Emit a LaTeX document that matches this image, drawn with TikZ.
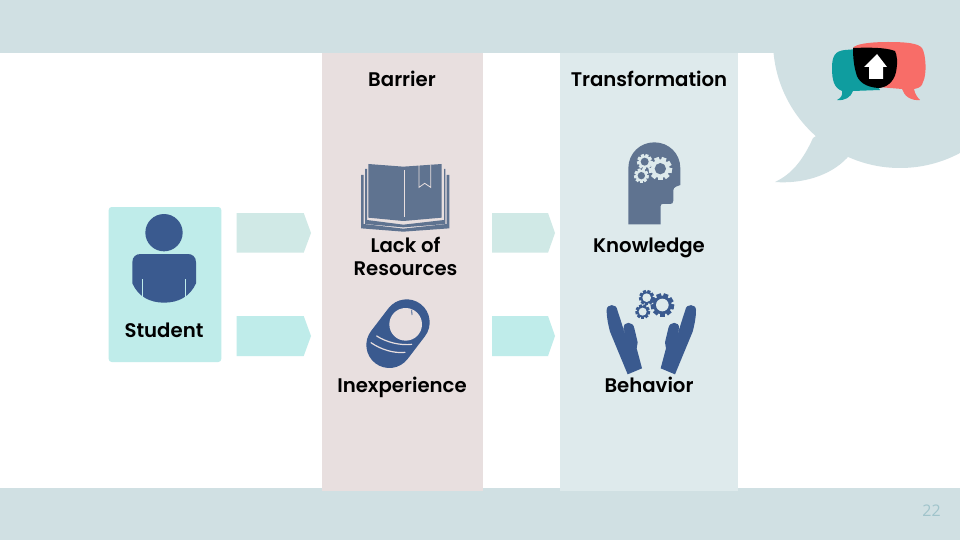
\documentclass[tikz,border=0pt]{standalone}
\usepackage{fontspec}
\setmainfont{Poppins SemiBold}
\newfontfamily\numfont{Open Sans}
\definecolor{bandc}{HTML}{D0E0E3}
\definecolor{barc}{HTML}{E8DFDF}
\definecolor{trac}{HTML}{DEEAEC}
\definecolor{stuc}{HTML}{BFECEA}
\definecolor{arrc}{HTML}{D0E9E6}
\definecolor{iconA}{HTML}{5F7390}
\definecolor{iconB}{HTML}{3A5A8F}
\definecolor{tealc}{HTML}{0F9D9F}
\definecolor{coralc}{HTML}{F86D68}
\definecolor{numc}{HTML}{A0C4CB}
\tikzset{
  label text/.style={font=\fontsize{19.7}{23}\selectfont,text=black,align=center,inner sep=0pt,anchor=base},
  zoomed/.style={x=0.33333pt,y=-0.33333pt},
}
\newcommand{\zgear}[6]{%
  \fill[#5] (#1,#2) circle (#3*0.8);
  \foreach \za in {10,50,...,370}{
    \draw[#5,line width=#3*0.14pt] ({#1+0.7*#3*cos(\za)},{#2+0.7*#3*sin(\za)}) -- ({#1+#3*cos(\za)},{#2+#3*sin(\za)});
  }
  \fill[#6] (#1,#2) circle (#4);
}
\newcommand{\zhand}{%
  (50,75) .. controls (50,56) and (80,55) .. (82,75) -- (95,115) -- (112,172) -- (101,130)
  .. controls (99,108) and (130,108) .. (133,130) -- (143,172) -- (140,190) -- (156,250) -- (113,268) -- (60,140)
  .. controls (55,120) and (50,100) .. (50,75) -- cycle}
\begin{document}
\begin{tikzpicture}[x=1pt,y=-1pt]
\path[use as bounding box,fill=white] (0,0) rectangle (960,540);
% bands
\fill[bandc] (0,0) rectangle (960,53);
\fill[bandc] (0,488) rectangle (960,540);
% speech bubble
\begin{scope}
\clip (0,0) rectangle (960,540);
\fill[bandc] (900,41) circle (127);
\end{scope}
\fill[bandc] (813,138) .. controls (803,160) and (792,174) .. (775,182)
  .. controls (802,184) and (830,176) .. (847,158) -- (870,130) -- (840,120) -- cycle;
% columns
\fill[barc] (321.5,53) rectangle (482.5,490.5);
\fill[trac] (560,53) rectangle (737.5,491);
% student box
\fill[stuc,rounded corners=3pt] (108.7,207) rectangle (221.3,362);
% block arrows
\fill[arrc] (236.5,213) -- (303.7,213) -- (311,233) -- (303.7,252.7) -- (236.5,252.7) -- cycle;
\fill[stuc] (236.5,316) -- (303.7,316) -- (311,336) -- (303.7,356) -- (236.5,356) -- cycle;
\fill[arrc] (492,213) -- (548,213) -- (555,233) -- (548,252.7) -- (492,252.7) -- cycle;
\fill[stuc] (492,316) -- (548,316) -- (555,336) -- (548,356) -- (492,356) -- cycle;
% student icon
\begin{scope}[shift={(100,200)},zoomed]
\fill[iconB] (192,98) circle (56);
\fill[iconB] (97,187) .. controls (97,170) and (108,162) .. (122,162) -- (263,162)
  .. controls (277,162) and (288,170) .. (288,187) -- (288,250)
  .. controls (270,290) and (235,308) .. (192,308)
  .. controls (150,308) and (115,290) .. (97,250) -- cycle;
\draw[stuc,line width=0.8pt] (128,238) -- (128,292) (256,238) -- (256,292);
\end{scope}
% book icon
\begin{scope}[shift={(340,150)},zoomed]
\fill[iconA] (63,75) -- (71,75) -- (71,222) -- (190,236) -- (320,222) -- (320,75) -- (328,75) -- (328,235) -- (190,245) -- (63,235) -- cycle;
\fill[iconA] (75,57) -- (81,57) -- (81,210) -- (190,224) -- (312,210) -- (312,57) -- (316,57) -- (316,222) -- (190,232) -- (75,222) -- cycle;
\fill[iconA] (85,42) -- (190,50) -- (305,42) -- (305,203) -- (190,213) -- (85,203) -- cycle;
\draw[barc,line width=0.8pt] (192,60) -- (192,200);
\draw[barc,line width=0.8pt] (237,45) -- (237,112) -- (254,100) -- (272,112) -- (272,45);
\end{scope}
% head icon
\begin{scope}[shift={(590,130)},zoomed]
\fill[iconA] (115,283) -- (115,115) .. controls (115,70) and (150,37) .. (193,37)
  .. controls (236,37) and (271,70) .. (271,115) -- (271,165) -- (258,170)
  .. controls (252,172) and (250,176) .. (250,182) -- (250,212)
  .. controls (250,219) and (246,222) .. (240,222) -- (218,222)
  .. controls (214,222) and (212,224) .. (212,228) -- (212,283) -- cycle;
\zgear{211}{116}{35}{17}{trac}{iconA}
\zgear{164}{95}{23}{12}{trac}{iconA}
\zgear{154}{137}{22}{11}{trac}{iconA}
\end{scope}
% hands icon
\begin{scope}[shift={(590,285)},zoomed]
\fill[iconB] \zhand;
\begin{scope}[shift={(368,0)},xscale=-1]
\fill[iconB] \zhand;
\end{scope}
\zgear{217}{60}{35}{19}{iconB}{trac}
\zgear{170}{38}{23}{13}{iconB}{trac}
\zgear{158}{80}{22}{12}{iconB}{trac}
\end{scope}
% baby icon
\begin{scope}[shift={(350,295)},zoomed]
\draw[iconB,line width=46pt,line cap=round] (170,82) -- (118,150);
\fill[barc] (167,88) circle (49);
\draw[iconB,line width=0.8pt] (185,44) -- (186,60);
\draw[barc,line width=1.2pt,line cap=round] (80,123) .. controls (110,142) and (150,152) .. (185,148);
\draw[barc,line width=1.2pt,line cap=round] (63,143) .. controls (90,162) and (130,176) .. (165,172);
\end{scope}
% logo
\fill[tealc] (858,57) -- (858,49) -- (845,50) .. controls (835,51) and (832,56) .. (832,68)
  .. controls (832,80) and (834,88) .. (842,91) .. controls (843,95) and (841,98) .. (837,100)
  .. controls (845,101) and (851,97) .. (853,91) -- (880,90) -- cycle;
\fill[coralc] (853,48) .. controls (855,44) and (870,42) .. (888,42) .. controls (905,42) and (918,43) .. (922,48)
  .. controls (926,54) and (927,75) .. (923,82) .. controls (922,86) and (920,88) .. (914,89)
  .. controls (915,94) and (917,97) .. (920,100) .. controls (911,101) and (904,96) .. (902,89)
  -- (878,87) -- cycle;
\fill[black] (853,48) .. controls (865,47.5) and (885,47) .. (895,51)
  .. controls (897,55) and (898,62) .. (896,72)
  .. controls (894,82) and (886,88) .. (878,88)
  .. controls (866,87) and (858,82) .. (856,73)
  .. controls (854,66) and (853,58) .. (853,48) -- cycle;
\fill[white] (877,54) -- (887,67) -- (883,67) -- (883,79) -- (869,79) -- (869,67) -- (864,67) -- cycle;
% labels
\node[label text] (barrier) at (402,86.5) {Barrier};
\node[label text] (transformation) at (649,86.5) {Transformation};
\node[label text] (student) at (164,337) {Student};
\node[label text] (lack) at (405.5,275) {Lack of\\Resources};
\node[label text] (inexp) at (402,392) {Inexperience};
\node[label text] (know) at (649,252) {Knowledge};
\node[label text] (behav) at (649,392) {Behavior};
\node[font=\numfont\fontsize{16}{18}\selectfont,text=numc,inner sep=0pt] (page) at (931.5,511) {22};
\end{tikzpicture}
\end{document}
